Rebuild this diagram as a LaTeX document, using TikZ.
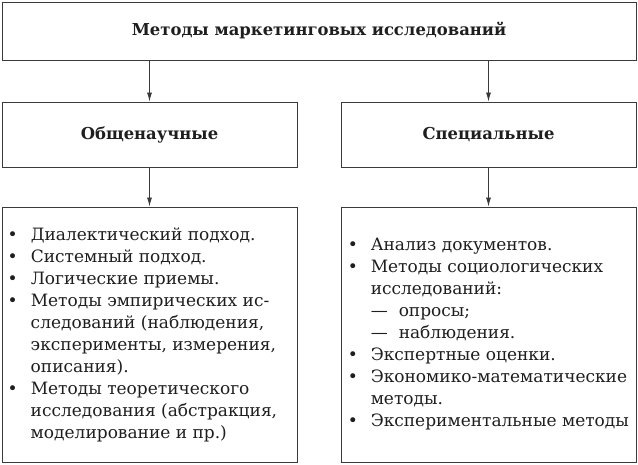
\documentclass[tikz,border=0pt]{standalone}
\usepackage{fontspec}
\setmainfont{DejaVu Serif}
\usetikzlibrary{arrows.meta, positioning, calc}
\definecolor{ink}{HTML}{1E1E1E}
\definecolor{frame}{HTML}{3A3A3A}
\newcommand\bul{\makebox[23pt][l]{\textbullet}}
\newcommand\ind{\hspace*{23pt}}
\newcommand\dsh{\makebox[28pt][l]{---}}
\tikzset{
  box/.style={draw=frame, line width=0.9pt, inner sep=0pt, text=ink},
  head/.style={font=\fontsize{16.4}{19}\selectfont\bfseries},
  items/.style={align=left, inner sep=0pt, text=ink, font=\fontsize{17}{22}\selectfont},
  arr/.style={-{Latex[length=9pt, width=5pt]}, draw=frame, line width=0.8pt},
}
\begin{document}
\begin{tikzpicture}[x=1pt, y=1pt]
  \useasboundingbox (0,0) rectangle (638,-464);
  \node[box, head, minimum width=634pt, minimum height=58pt] (title) at (319,-31) {Методы маркетинговых исследований};
  \node[box, head, minimum width=295pt, minimum height=65pt] (gen) at (149.5,-134.5) {Общенаучные};
  \node[box, head, minimum width=295pt, minimum height=65pt] (spec) at (488.5,-134.5) {Специальные};
  \node[box, minimum width=295pt, minimum height=255pt] (genlist) at (149.5,-334.5) {};
  \node[box, minimum width=295pt, minimum height=255pt] (speclist) at (488.5,-334.5) {};
  % list texts
  \node[items, right=6pt of genlist.west] (genitems) {%
    \bul Диалектический подход.\\
    \bul Системный подход.\\
    \bul Логические приемы.\\
    \bul Методы эмпирических ис-\\
    \ind следований (наблюдения,\\
    \ind эксперименты, измерения,\\
    \ind описания).\\
    \bul Методы теоретического\\
    \ind исследования (абстракция,\\
    \ind моделирование и пр.)};
  \node[items, right=7pt of speclist.west] (specitems) {%
    \bul Анализ документов.\\
    \bul Методы социологических\\
    \ind исследований:\\
    \ind\dsh опросы;\\
    \ind\dsh наблюдения.\\
    \bul Экспертные оценки.\\
    \bul Экономико-математические\\
    \ind методы.\\
    \bul Экспериментальные методы};
  % connectors
  \draw[arr] (title.south -| gen.north) -- (gen.north);
  \draw[arr] (title.south -| spec.north) -- (spec.north);
  \draw[arr] (gen.south) -- (genlist.north);
  \draw[arr] (spec.south) -- (speclist.north);
\end{tikzpicture}
\end{document}
